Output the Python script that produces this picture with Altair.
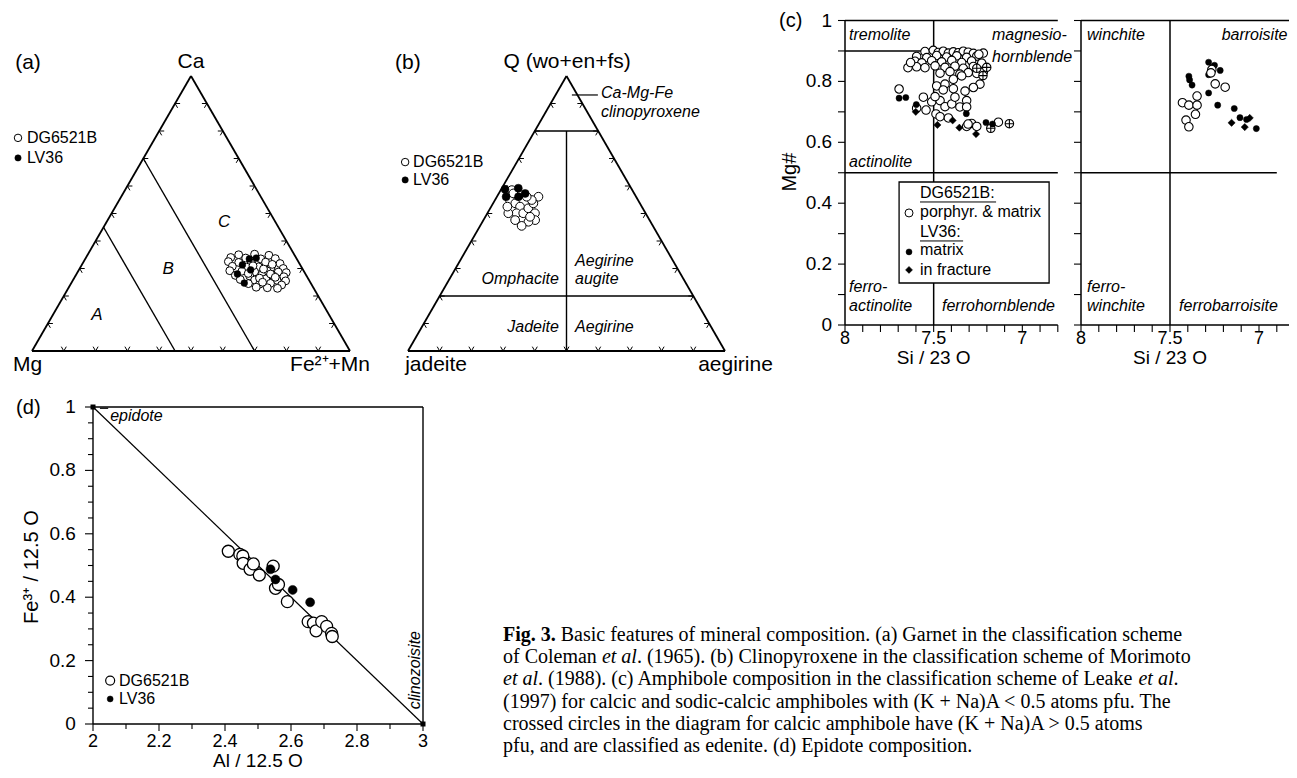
import altair as alt
import pandas as pd

# ---------------- (a) garnet: fractions of Ca and Fe2+ + Mn (Mg is the rest) ----------------
GRT_DG6521B_CA = [0.350, 0.352, 0.348, 0.340, 0.338, 0.335, 0.336, 0.325, 0.322, 0.320, 0.323, 0.318,
                  0.308, 0.305, 0.306, 0.303, 0.300, 0.292, 0.290, 0.288, 0.291, 0.287, 0.285, 0.275,
                  0.273, 0.276, 0.272, 0.270, 0.260, 0.258, 0.262, 0.257, 0.255, 0.245, 0.243, 0.246,
                  0.240, 0.232, 0.230, 0.228, 0.298, 0.315, 0.280, 0.265, 0.310, 0.282, 0.268, 0.250]
GRT_DG6521B_FE = [0.475, 0.524, 0.571, 0.455, 0.503, 0.552, 0.597, 0.455, 0.489, 0.530, 0.573, 0.621,
                  0.476, 0.522, 0.559, 0.600, 0.640, 0.476, 0.515, 0.556, 0.594, 0.631, 0.657, 0.502,
                  0.548, 0.584, 0.624, 0.657, 0.525, 0.571, 0.604, 0.642, 0.670, 0.558, 0.594, 0.627,
                  0.665, 0.589, 0.625, 0.658, 0.579, 0.598, 0.610, 0.583, 0.540, 0.539, 0.631, 0.600]
GRT_LV36_CA = [0.335, 0.338, 0.313, 0.280, 0.247, 0.295]
GRT_LV36_FE = [0.516, 0.536, 0.505, 0.506, 0.544, 0.540]

# ---------------- (b) clinopyroxene: Q and aegirine fractions (jadeite is the rest) ----------------
CPX_DG6521B_Q = [0.585, 0.549, 0.537, 0.525, 0.501, 0.501, 0.519, 0.537, 0.561, 0.549,
                 0.501, 0.476, 0.470, 0.455, 0.476, 0.501, 0.561, 0.573, 0.525, 0.488]
CPX_DG6521B_AE = [0.035, 0.047, 0.070, 0.091, 0.092, 0.113, 0.120, 0.127, 0.131, 0.116,
                  0.150, 0.163, 0.145, 0.131, 0.100, 0.066, 0.094, 0.046, 0.051, 0.141]
CPX_LV36_Q = [0.588, 0.592, 0.573, 0.561, 0.561]
CPX_LV36_AE = [0.012, 0.052, 0.083, 0.068, 0.029]

# ---------------- (c) amphibole: Si / 23 O and Mg# ----------------
AMP_CAL_DG_SI = [7.549, 7.502, 7.474, 7.446, 7.417, 7.389, 7.361, 7.333, 7.305, 7.276,
                 7.596, 7.539, 7.483, 7.427, 7.370, 7.314, 7.257,
                 7.605, 7.567, 7.511, 7.455, 7.398, 7.342, 7.286, 7.229,
                 7.596, 7.549, 7.492, 7.436, 7.380, 7.333, 7.276,
                 7.464, 7.408, 7.352, 7.305, 7.257, 7.220,
                 7.483, 7.436, 7.389, 7.342, 7.239,
                 7.446, 7.389, 7.323, 7.276,
                 7.645, 7.630, 7.220, 7.245,
                 7.695, 7.558, 7.596, 7.543, 7.511, 7.487, 7.464, 7.436, 7.398, 7.380, 7.352,
                 7.314, 7.314, 7.464, 7.417, 7.492, 7.286, 7.314, 7.257, 7.135, 7.306]
AMP_CAL_DG_MG = [0.898, 0.902, 0.895, 0.899, 0.893, 0.897, 0.894, 0.899, 0.896, 0.892,
                 0.882, 0.878, 0.885, 0.880, 0.884, 0.879, 0.883,
                 0.866, 0.861, 0.868, 0.864, 0.869, 0.862, 0.867, 0.860,
                 0.848, 0.845, 0.851, 0.846, 0.850, 0.843, 0.849,
                 0.827, 0.832, 0.824, 0.829, 0.826, 0.831,
                 0.785, 0.791, 0.807, 0.818, 0.791,
                 0.772, 0.776, 0.768, 0.780,
                 0.845, 0.862, 0.893, 0.889,
                 0.775, 0.748, 0.712, 0.706, 0.733, 0.693, 0.737, 0.717, 0.726, 0.748, 0.716,
                 0.737, 0.716, 0.684, 0.680, 0.750, 0.662, 0.652, 0.652, 0.666, 0.660]
AMP_CAL_EDENITE_SI = [7.257, 7.201, 7.222, 7.073, 7.178]
AMP_CAL_EDENITE_MG = [0.843, 0.846, 0.819, 0.661, 0.646]
AMP_CAL_LV_SI = [7.695, 7.657, 7.598, 7.316, 7.205, 7.168]
AMP_CAL_LV_MG = [0.745, 0.747, 0.724, 0.694, 0.665, 0.660]
AMP_CAL_LVF_SI = [7.601, 7.479, 7.393, 7.355, 7.261]
AMP_CAL_LVF_MG = [0.700, 0.657, 0.672, 0.648, 0.627]

AMP_NAC_DG_SI = [7.430, 7.394, 7.348, 7.348, 7.357, 7.410, 7.394, 7.265, 7.246, 7.190, 7.270]
AMP_NAC_DG_MG = [0.730, 0.722, 0.752, 0.722, 0.692, 0.673, 0.651, 0.839, 0.792, 0.781, 0.828]
AMP_NAC_LV_SI = [7.394, 7.390, 7.376, 7.283, 7.250, 7.283, 7.218, 7.283, 7.232, 7.139, 7.107, 7.015, 7.070, 7.262]
AMP_NAC_LV_MG = [0.817, 0.805, 0.788, 0.863, 0.853, 0.822, 0.836, 0.762, 0.722, 0.711, 0.681, 0.645, 0.675, 0.846]
AMP_NAC_LVF_SI = [7.154, 7.080, 7.052]
AMP_NAC_LVF_MG = [0.664, 0.650, 0.680]

# ---------------- (d) epidote: Al / 12.5 O and Fe3+ / 12.5 O ----------------
EP_DG6521B_AL = [2.410, 2.445, 2.454, 2.455, 2.476, 2.486, 2.504, 2.546, 2.553, 2.562,
                 2.589, 2.652, 2.668, 2.676, 2.693, 2.708, 2.723, 2.725]
EP_DG6521B_FE = [0.545, 0.535, 0.530, 0.507, 0.488, 0.505, 0.470, 0.498, 0.428, 0.440,
                 0.386, 0.323, 0.318, 0.294, 0.323, 0.308, 0.286, 0.276]
EP_LV36_AL = [2.538, 2.553, 2.605, 2.658]
EP_LV36_FE = [0.488, 0.456, 0.423, 0.384]

# ---------------- ticks and tick labels ----------------
TERN_TICKS = [0.1, 0.2, 0.3, 0.4, 0.5, 0.6, 0.7, 0.8, 0.9]
C_YTICKS = [0.0, 0.1, 0.2, 0.3, 0.4, 0.5, 0.6, 0.7, 0.8, 0.9, 1.0]
C_XTICKS = [8.0, 7.9, 7.8, 7.7, 7.6, 7.5, 7.4, 7.3, 7.2, 7.1, 7.0, 6.9, 6.8]
C_YLAB = [0.0, 0.2, 0.4, 0.6, 0.8, 1.0]
C_YLAB_TXT = ["0", "0.2", "0.4", "0.6", "0.8", "1"]
C_XLAB = [8.0, 7.5, 7.0]
C_XLAB_TXT = ["8", "7.5", "7"]
D_YMAJOR = [0.0, 0.2, 0.4, 0.6, 0.8, 1.0]
D_YMINOR = [0.05, 0.1, 0.15, 0.25, 0.3, 0.35, 0.45, 0.5, 0.55, 0.65, 0.7, 0.75, 0.85, 0.9, 0.95]
D_YLAB_TXT = ["0", "0.2", "0.4", "0.6", "0.8", "1"]
D_XMAJOR = [2.0, 2.2, 2.4, 2.6, 2.8, 3.0]
D_XMINOR = [2.1, 2.3, 2.5, 2.7, 2.9]
D_XLAB_TXT = ["2", "2.2", "2.4", "2.6", "2.8", "3"]

CAPTION = [
    [("Fig. 3.", "bold"), (" Basic features of mineral composition. (a) Garnet in the classification scheme", "normal")],
    [("of Coleman ", "normal"), ("et al", "italic"), (". (1965). (b) Clinopyroxene in the classification scheme of Morimoto", "normal")],
    [("et al", "italic"), (". (1988). (c) Amphibole composition in the classification scheme of Leake ", "normal"), ("et al", "italic"), (".", "normal")],
    [("(1997) for calcic and sodic-calcic amphiboles with (K + Na)A < 0.5 atoms pfu. The", "normal")],
    [("crossed circles in the diagram for calcic amphibole have (K + Na)A > 0.5 atoms", "normal")],
    [("pfu, and are classified as edenite. (d) Epidote composition.", "normal")],
]

# ---------------- layout ----------------
W, H = 1281, 762
SANS = "Liberation Sans"
SERIF = "Liberation Serif"
CAP_FS = 20

PANELS = {
    "a": ([0, 1], [24, 342], [0, 1], [343, 68]),
    "b": ([0, 1], [400, 717], [0, 1], [343, 68]),
    "c1": ([8, 6.8], [837, 1049.8], [0, 1], [317, 12.5]),
    "c2": ([8, 6.8], [1073, 1286.6], [0, 1], [317, 12.5]),
    "d": ([2, 3], [85, 415], [0, 1], [716, 399]),
    "cap": ([0, 1], [495, 495 + CAP_FS], [0, 5], [627, 738]),
}

CROSSED = "M-1,0A1,1,0,1,1,1,0A1,1,0,1,1,-1,0ZM-1,0L1,0M0,-1L0,1"


def enc(p, x="x", y="y", x2=None, y2=None):
    xd, xr, yd, yr = PANELS[p]
    e = dict(
        x=alt.X(f"{x}:Q", scale=alt.Scale(domain=xd, range=xr, nice=False, zero=False), axis=None),
        y=alt.Y(f"{y}:Q", scale=alt.Scale(domain=yd, range=yr, nice=False, zero=False), axis=None),
    )
    if x2:
        e["x2"] = alt.X2(f"{x2}:Q")
    if y2:
        e["y2"] = alt.Y2(f"{y2}:Q")
    return e


def segs(p, rows, sw=1.5):
    df = pd.DataFrame(rows, columns=["x", "y", "x2", "y2"])
    return alt.Chart(df).mark_rule(color="black", strokeWidth=sw).encode(**enc(p, x2="x2", y2="y2"))


def ticks(p, rows, dx=0, dy=0, sw=1.1):
    df = pd.DataFrame(rows, columns=["x", "y"])
    return alt.Chart(df).mark_rule(color="black", strokeWidth=sw, x2Offset=dx, y2Offset=dy).encode(
        **enc(p, x2="x", y2="y"))


def texts(p, rows, size, align="left", style="normal", weight="normal", angle=0, font=SANS):
    df = pd.DataFrame(rows, columns=["x", "y", "text"])
    return alt.Chart(df).mark_text(align=align, baseline="middle", font=font, fontSize=size,
                                   fontStyle=style, fontWeight=weight, angle=angle,
                                   color="black").encode(**enc(p), text="text:N")


def pts(p, xs, ys, shape="circle", size=49, fill="white", sw=1.0):
    df = pd.DataFrame({"x": xs, "y": ys})
    return alt.Chart(df).mark_point(shape=shape, size=size, filled=True, fill=fill, stroke="black",
                                    strokeWidth=sw, opacity=1).encode(**enc(p))


def tern_xy(top, right):
    return right + top / 2.0, top


def tern_segs(pairs):
    rows = []
    for (t1, r1), (t2, r2) in pairs:
        x1, y1 = tern_xy(t1, r1)
        x2, y2 = tern_xy(t2, r2)
        rows.append((x1, y1, x2, y2))
    return rows


ARM = 5.0
ARM_DIRS = {
    "bottom": [(-ARM * 0.5, -ARM * 0.866), (ARM * 0.5, -ARM * 0.866)],
    "left": [(ARM, 0.0), (ARM * 0.5, ARM * 0.866)],
    "right": [(-ARM, 0.0), (-ARM * 0.5, ARM * 0.866)],
}


def tern_ticks(p):
    edges = {
        "bottom": [tern_xy(0, f) for f in TERN_TICKS],
        "left": [tern_xy(f, 0) for f in TERN_TICKS],
        "right": [tern_xy(f, 1 - f) for f in TERN_TICKS],
    }
    out = []
    for edge, pp in edges.items():
        for dx, dy in ARM_DIRS[edge]:
            out.append(ticks(p, pp, dx, dy, sw=1.0))
    return out


def tern_pts(p, tops, rights, **kw):
    xs = [r + t / 2.0 for t, r in zip(tops, rights)]
    return pts(p, xs, tops, **kw)


layers = []

# ======================= (a) garnet =======================
OUTLINE = [((0, 0), (0, 1)), ((0, 0), (1, 0)), ((0, 1), (1, 0))]
layers.append(segs("a", tern_segs(OUTLINE), 1.8))
layers.append(segs("a", tern_segs([((0.45, 0), (0, 0.45)), ((0.70, 0), (0, 0.70))]), 1.4))
layers += tern_ticks("a")
layers.append(tern_pts("a", GRT_DG6521B_CA, GRT_DG6521B_FE, size=62, fill="white", sw=1.0))
layers.append(tern_pts("a", GRT_LV36_CA, GRT_LV36_FE, size=46, fill="black", sw=0.5))
layers.append(texts("a", [(0.5, 1.052, "Ca")], 21, "center"))
layers.append(texts("a", [(-0.06, -0.051, "Mg"), (-0.053, 1.047, "(a)")], 21, "left"))
layers.append(texts("a", [(1.063, -0.051, "Fe²⁺+Mn")], 21, "right"))
layers.append(texts("a", [(0.204, 0.131, "A"), (0.428, 0.298, "B"), (0.604, 0.469, "C")], 17, "center", style="italic"))
layers.append(texts("a", [(-0.016, 0.775, "DG6521B"), (-0.016, 0.702, "LV36")], 16, "left"))
layers.append(pts("a", [-0.044], [0.775], size=56, fill="white"))
layers.append(pts("a", [-0.044], [0.702], size=40, fill="black", sw=0.5))

# ======================= (b) clinopyroxene =======================
layers.append(segs("b", tern_segs(OUTLINE), 1.8))
layers.append(segs("b", tern_segs([((0.8, 0), (0.8, 0.2)), ((0.2, 0), (0.2, 0.8)), ((0.8, 0.1), (0, 0.5))]), 1.4))
layers += tern_ticks("b")
layers.append(tern_pts("b", CPX_DG6521B_Q, CPX_DG6521B_AE, size=76, fill="white", sw=1.0))
layers.append(tern_pts("b", CPX_LV36_Q, CPX_LV36_AE, size=64, fill="black", sw=0.5))
layers.append(segs("b", [(0.517, 0.931, 0.599, 0.931)], 1.2))
layers.append(texts("b", [(0.502, 1.051, "Q (wo+en+fs)")], 21, "center"))
layers.append(texts("b", [(-0.041, 1.047, "(b)"), (-0.009, -0.051, "jadeite")], 21, "left"))
layers.append(texts("b", [(1.151, -0.051, "aegirine")], 21, "right"))
layers.append(texts("b", [(0.609, 0.938, "Ca-Mg-Fe"), (0.609, 0.869, "clinopyroxene"),
                          (0.527, 0.327, "Aegirine"), (0.527, 0.262, "augite"),
                          (0.527, 0.087, "Aegirine")], 16, "left", style="italic"))
layers.append(texts("b", [(0.476, 0.262, "Omphacite"), (0.476, 0.087, "Jadeite")], 16, "right", style="italic"))
layers.append(texts("b", [(0.016, 0.687, "DG6521B"), (0.016, 0.622, "LV36")], 16, "left"))
layers.append(pts("b", [-0.009], [0.687], size=56, fill="white"))
layers.append(pts("b", [-0.009], [0.622], size=40, fill="black", sw=0.5))

# ======================= (c) amphibole, calcic =======================
layers.append(segs("c1", [(8, 0, 8, 1), (8, 0, 6.8, 0), (8, 1, 6.8, 1), (7.5, 0, 7.5, 1),
                          (8, 0.9, 7.5, 0.9), (8, 0.5, 6.8, 0.5)], 1.5))
layers.append(ticks("c1", [(8, v) for v in C_YTICKS], dx=-7))
layers.append(ticks("c1", [(v, 0) for v in C_XTICKS], dy=7))
layers.append(pts("c1", AMP_CAL_DG_SI, AMP_CAL_DG_MG, size=72, fill="white", sw=1.1))
layers.append(pts("c1", AMP_CAL_EDENITE_SI, AMP_CAL_EDENITE_MG, shape=CROSSED, size=72, fill="white", sw=1.1))
layers.append(pts("c1", AMP_CAL_LV_SI, AMP_CAL_LV_MG, size=38, fill="black", sw=0.5))
layers.append(pts("c1", AMP_CAL_LVF_SI, AMP_CAL_LVF_MG, shape="diamond", size=52, fill="black", sw=0.5))
layers.append(texts("c1", [(7.977, 0.952, "tremolite"), (7.171, 0.952, "magnesio-"), (7.171, 0.881, "hornblende"),
                           (7.977, 0.534, "actinolite"), (7.977, 0.124, "ferro-"), (7.977, 0.062, "actinolite"),
                           (7.453, 0.062, "ferrohornblende")], 16, "left", style="italic"))
layers.append(texts("c1", [(8.073, v, t) for v, t in zip(C_YLAB, C_YLAB_TXT)], 19, "right"))
layers.append(texts("c1", [(v, -0.046, t) for v, t in zip(C_XLAB, C_XLAB_TXT)], 18, "center"))
layers.append(texts("c1", [(7.5, -0.108, "Si / 23 O")], 19, "center"))
layers.append(texts("c1", [(8.31, 0.502, "Mg#")], 20, "center", angle=270))
layers.append(texts("c1", [(8.372, 0.998, "(c)")], 20, "left"))
# legend box
box = pd.DataFrame({"x": [7.695], "x2": [6.849], "y": [0.4696], "y2": [0.1379]})
layers.append(alt.Chart(box).mark_rect(fill="white", stroke="black", strokeWidth=1.3).encode(
    **enc("c1", x2="x2", y2="y2")))
layers.append(texts("c1", [(7.577, 0.4335, "DG6521B:"), (7.577, 0.371, "porphyr. & matrix"),
                           (7.577, 0.305, "LV36:"), (7.577, 0.246, "matrix"),
                           (7.577, 0.181, "in fracture")], 16, "left"))
layers.append(segs("c1", [(7.577, 0.404, 7.148, 0.404), (7.577, 0.276, 7.334, 0.276)], 1.0))
layers.append(pts("c1", [7.639], [0.368], size=64, fill="white"))
layers.append(pts("c1", [7.639], [0.240], size=36, fill="black", sw=0.5))
layers.append(pts("c1", [7.639], [0.181], shape="diamond", size=49, fill="black", sw=0.5))

# ======================= (c) amphibole, sodic-calcic =======================
layers.append(segs("c2", [(8, 0, 8, 1), (8, 0, 6.8, 0), (8, 1, 6.8, 1), (7.5, 0, 7.5, 1),
                          (8, 0.5, 6.9, 0.5)], 1.5))
layers.append(ticks("c2", [(8, v) for v in C_YTICKS], dx=-7))
layers.append(ticks("c2", [(v, 0) for v in C_XTICKS], dy=7))
layers.append(pts("c2", AMP_NAC_LV_SI, AMP_NAC_LV_MG, size=38, fill="black", sw=0.5))
layers.append(pts("c2", AMP_NAC_LVF_SI, AMP_NAC_LVF_MG, shape="diamond", size=52, fill="black", sw=0.5))
layers.append(pts("c2", AMP_NAC_DG_SI, AMP_NAC_DG_MG, size=72, fill="white", sw=1.1))
layers.append(texts("c2", [(7.966, 0.952, "winchite"), (7.966, 0.124, "ferro-"), (7.966, 0.062, "winchite"),
                           (7.449, 0.062, "ferrobarroisite")], 16, "left", style="italic"))
layers.append(texts("c2", [(6.84, 0.952, "barroisite")], 16, "right", style="italic"))
layers.append(texts("c2", [(v, -0.046, t) for v, t in zip(C_XLAB, C_XLAB_TXT)], 18, "center"))
layers.append(texts("c2", [(7.5, -0.108, "Si / 23 O")], 19, "center"))

# ======================= (d) epidote =======================
layers.append(segs("d", [(2, 0, 2, 1), (3, 0, 3, 1), (2, 1, 3, 1), (2, 0, 3, 0)], 1.4))
layers.append(segs("d", [(2, 1, 3, 0), (2.021, 0.996, 2.046, 0.996)], 1.2))
layers.append(ticks("d", [(2, v) for v in D_YMAJOR], dx=-8))
layers.append(ticks("d", [(2, v) for v in D_YMINOR], dx=-5))
layers.append(ticks("d", [(v, 0) for v in D_XMAJOR], dy=7))
layers.append(ticks("d", [(v, 0) for v in D_XMINOR], dy=5))
layers.append(pts("d", [2, 3], [1, 0], shape="square", size=25, fill="black", sw=0))
layers.append(pts("d", EP_DG6521B_AL, EP_DG6521B_FE, size=144, fill="white", sw=1.3))
layers.append(pts("d", EP_LV36_AL, EP_LV36_FE, size=81, fill="black", sw=0.5))
layers.append(texts("d", [(2.052, 0.972, "epidote")], 16, "left", style="italic"))
layers.append(texts("d", [(2.976, 0.170, "clinozoisite")], 16, "center", style="italic", angle=270))
layers.append(texts("d", [(1.948, v, t) for v, t in zip(D_YMAJOR, D_YLAB_TXT)], 19, "right"))
layers.append(texts("d", [(v, -0.057, t) for v, t in zip(D_XMAJOR, D_XLAB_TXT)], 18, "center"))
layers.append(texts("d", [(2.5, -0.116, "Al / 12.5 O")], 19, "center"))
layers.append(texts("d", [(1.815, 0.495, "Fe³⁺ / 12.5 O")], 20, "center", angle=270))
layers.append(texts("d", [(1.767, 0.997, "(d)")], 20, "left"))
layers.append(texts("d", [(2.079, 0.137, "DG6521B"), (2.079, 0.079, "LV36")], 16, "left"))
layers.append(pts("d", [2.052], [0.137], size=81, fill="white", sw=1.2))
layers.append(pts("d", [2.052], [0.079], size=36, fill="black", sw=0.5))

# ======================= caption =======================
TIMES = {" ": 250, "(": 333, ")": 333, "+": 564, ",": 250, "-": 333, ".": 250, "<": 564, ">": 564,
         "&": 778, ":": 278, "A": 722, "B": 667, "C": 667, "D": 722, "E": 611, "F": 556, "G": 722,
         "H": 722, "I": 333, "K": 722, "L": 611, "M": 889, "N": 722, "O": 722, "P": 556, "T": 611,
         "a": 444, "b": 500, "c": 444, "d": 500, "e": 444, "f": 333, "g": 500, "h": 500, "i": 278,
         "j": 278, "k": 500, "l": 278, "m": 778, "n": 500, "o": 500, "p": 500, "q": 500, "r": 333,
         "s": 389, "t": 278, "u": 500, "v": 500, "w": 722, "x": 500, "y": 500, "z": 444}
TIMES_BOLD = {"F": 611, "i": 278, "g": 500, ".": 250, " ": 250, "3": 500}
TIMES_ITALIC = {"e": 444, "t": 278, " ": 250, "a": 500, "l": 278, ".": 250}


def em(s, style):
    table = dict(TIMES)
    if style == "bold":
        table.update(TIMES_BOLD)
    if style == "italic":
        table.update(TIMES_ITALIC)
    return sum(table.get(ch, 500) for ch in s) / 1000.0


cap_rows = {"normal": [], "bold": [], "italic": []}
for i, line in enumerate(CAPTION):
    pos = 0.0
    for txt, style in line:
        stripped = txt.lstrip(" ")
        pos += em(txt[: len(txt) - len(stripped)], style)
        cap_rows[style].append((pos, i, stripped))
        pos += em(stripped, style)

layers.append(texts("cap", cap_rows["normal"], CAP_FS, "left", font=SERIF))
layers.append(texts("cap", cap_rows["bold"], CAP_FS, "left", weight="bold", font=SERIF))
layers.append(texts("cap", cap_rows["italic"], CAP_FS, "left", style="italic", font=SERIF))

chart = (
    alt.layer(*layers)
    .resolve_scale(x="independent", y="independent")
    .properties(width=W, height=H, autosize=alt.AutoSizeParams(type="none"), padding=0)
    .configure_view(stroke=None)
)

chart.save("out.html", embed_options={"renderer": "svg", "actions": False})
